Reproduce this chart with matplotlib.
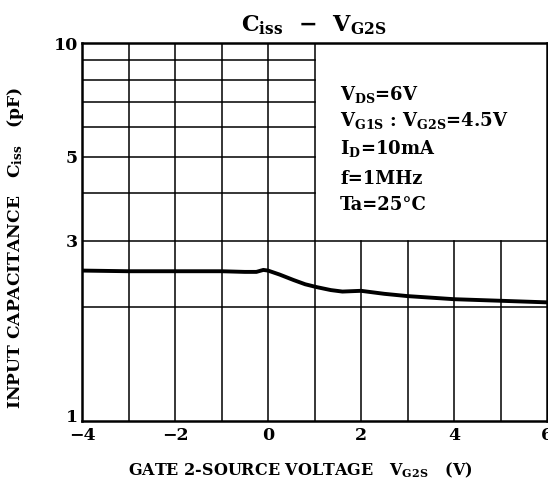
import numpy as np
import matplotlib
matplotlib.use('Agg')
import matplotlib.pyplot as plt
from matplotlib.ticker import FixedLocator, NullLocator
import matplotlib.transforms as mtransforms

plt.rcParams['font.family'] = 'DejaVu Serif'
plt.rcParams['font.weight'] = 'bold'
plt.rcParams['mathtext.fontset'] = 'custom'
plt.rcParams['mathtext.rm'] = 'DejaVu Serif:bold'
plt.rcParams['mathtext.it'] = 'DejaVu Serif:bold'
plt.rcParams['mathtext.bf'] = 'DejaVu Serif:bold'

# curve
vg2s = [-4.0, -3.0, -2.0, -1.0, -0.5, -0.25, -0.1, 0.0, 0.25, 0.55, 0.8, 1.05, 1.35, 1.6, 2.0, 2.5, 3.0, 3.5, 4.0, 4.5, 5.0, 5.5, 6.0]
ciss = [2.50, 2.49, 2.49, 2.49, 2.48, 2.48, 2.51, 2.50, 2.44, 2.36, 2.30, 2.26, 2.22, 2.20, 2.21, 2.17, 2.14, 2.12, 2.10, 2.09, 2.08, 2.07, 2.06]

x_ticks = [-4, -2, 0, 2, 4, 6]
x_ticklabels = ['\u22124', '\u22122', '0', '2', '4', '6']
y_ticks = [1, 3, 5, 10]
y_ticklabels = ['1', '3', '5', '10']

conditions = [r'V$_{\rm DS}$=6V',
              r'V$_{\rm G1S}$ : V$_{\rm G2S}$=4.5V',
              r'I$_{\rm D}$=10mA',
              'f=1MHz',
              'Ta=25\u00b0C']

fig = plt.figure(figsize=(5.48, 4.88), dpi=100)
ax = fig.add_axes([82/548, 67/488, 465/548, 378/488])
ax.set_yscale('log')
ax.set_xlim(-4, 6)
ax.set_ylim(1, 10)

# grid, with the box for the conditions left blank (x>1, y>3)
gk = dict(color='black', lw=1.1, zorder=1)
for y in [2, 3]:
    ax.plot([-4, 6], [y, y], **gk)
for y in [4, 6, 7, 8, 9, 5]:
    ax.plot([-4, 1], [y, y], **gk)
for x in [-3, -2, -1, 0, 1]:
    ax.plot([x, x], [1, 10], **gk)
for x in [2, 3, 4, 5]:
    ax.plot([x, x], [1, 3], **gk)

ax.plot(vg2s, ciss, color='black', lw=2.8, zorder=3)

ax.xaxis.set_major_locator(FixedLocator(x_ticks))
ax.set_xticklabels(x_ticklabels)
ax.yaxis.set_major_locator(FixedLocator(y_ticks))
ax.yaxis.set_minor_locator(NullLocator())
ax.set_yticklabels(y_ticklabels)
ax.tick_params(length=0, labelsize=12.5, pad=3)
ax.tick_params(axis='x', pad=4)
for lab in ax.get_xticklabels() + ax.get_yticklabels():
    lab.set_fontweight('bold')
# the "1" sits a little above the bottom spine
lab1 = ax.get_yticklabels()[0]
lab1.set_transform(lab1.get_transform() + mtransforms.ScaledTranslation(0, 4/72, fig.dpi_scale_trans))

for s in ax.spines.values():
    s.set_linewidth(1.8)

ty = [0.865, 0.795, 0.722, 0.64, 0.571]
for t, yy in zip(conditions, ty):
    ax.text(0.555, yy, t, transform=ax.transAxes, fontsize=13, fontweight='bold', va='center')

fig.text(314/548, 1 - 25/488, r'C$_{\rm iss}$  $-$  V$_{\rm G2S}$', ha='center', va='center', fontsize=16)
fig.text(300/548, 1 - 470/488, r'GATE 2-SOURCE VOLTAGE   V$_{\rm G2S}$   (V)', ha='center', va='center', fontsize=11.5)
fig.text(16/548, 1 - 248/488, r'INPUT CAPACITANCE   C$_{\rm iss}$   (pF)', ha='center', va='center', fontsize=12.3, rotation=90)

fig.savefig('out.png', dpi=100)
